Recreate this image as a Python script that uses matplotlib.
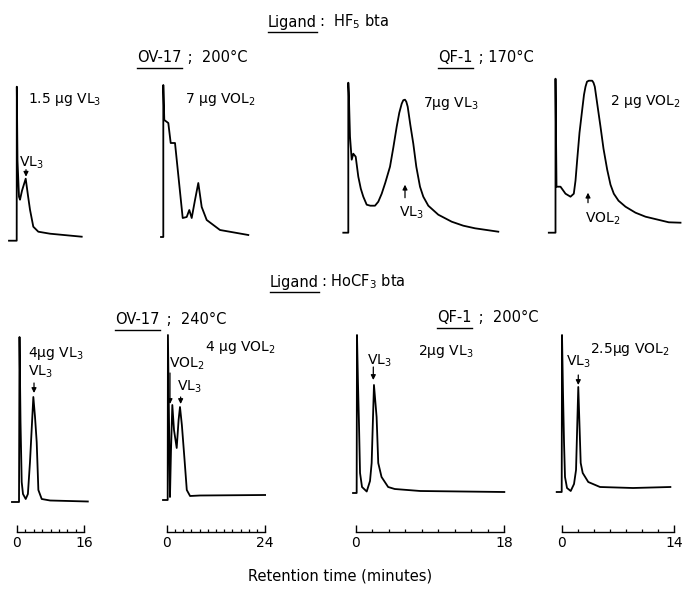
import numpy as np
import matplotlib
matplotlib.use("Agg")
import matplotlib.pyplot as plt
from matplotlib.lines import Line2D

# Chromatogram traces.
# Top row: no time scale given, x is chart distance (arbitrary units).
# Bottom row: x is retention time in minutes. y is detector response (arbitrary units).
p1_t = [-7.7, 0, 0.1, 0.8, 2.3, 3.3, 5.3, 9, 11.3, 13.3, 16.6, 21.6, 33.3, 65]
p1_h = [0, 0, 154, 80, 44, 41, 50, 62, 45, 31, 14, 9, 7, 4]

p2_t = [-2.3, 0, 0, 1, 5, 7.4, 11.7, 19.4, 23.4, 26, 28.4, 31.7, 35, 38.4, 43.4, 56.7, 85]
p2_h = [0, 0, 152, 117, 114, 94, 94, 19, 20, 27, 19, 37, 54, 30, 17, 7, 2]

p3_t = [-5, 0, 0, 0.5, 1.7, 3.4, 5, 7.4, 10, 12.5, 15, 18.4, 22, 26.7, 30, 33.4, 37,
        41.7, 45, 48.4, 51, 53.4, 55, 56.7, 58, 59.4, 62, 65, 68, 71.7, 75, 80,
        90, 103.4, 115, 126.7, 150]
p3_h = [0, 0, 150, 140, 96, 73, 79, 76, 56, 44, 36, 28, 27, 27, 31, 39, 50,
        66, 85, 106, 120, 129, 132.5, 133, 131, 126, 108, 89, 66, 46, 36, 27,
        18, 11, 7, 4.4, 1]

p4_t = [-6.7, 0, 0, 1, 5, 10, 15, 18.3, 20, 21.7, 24, 26.7, 28.5, 30, 31.5, 33.3,
        36.7, 38, 39.3, 42, 45, 48, 51.7, 55, 58.3, 63, 70, 80, 90, 113.3, 125]
p4_h = [0, 0, 154, 46, 46, 39, 36, 39, 52, 73, 100, 123, 138, 146, 151, 152,
        152, 150, 146, 127, 106, 84, 63, 48, 39, 32, 26, 20, 16, 10.4, 10]

p5_t = [-1.2, 0.48, 0.6, 0.84, 1.12, 1.43, 2.08, 2.6, 3.1, 3.9, 4.3, 4.7, 5.1, 5.9, 7.9, 16.9]
p5_h = [0, 0, 165, 80, 20, 8, 3, 8, 40, 105, 85, 60, 12, 3, 1.5, 0.5]

p6_t = [-0.9, 0.24, 0.3, 0.8, 1.05, 1.37, 1.78, 2.44, 2.9, 3.24, 3.7, 4.3, 4.9, 5.7, 8.1, 24]
p6_h = [0, 0, 165, 3, 50, 95, 70, 52, 80, 93, 75, 43, 10, 4, 4.5, 5]

p7_t = [-0.36, 0.08, 0.12, 0.24, 0.36, 0.49, 0.73, 1.3, 1.7, 1.9, 2.18, 2.5, 2.7, 3.1,
        3.9, 4.7, 7.8, 18]
p7_h = [0, 0, 158, 110, 70, 20, 6, 1.5, 12, 30, 108, 76, 30, 16, 6, 4, 2, 1]

p8_t = [-0.62, 0, 0.04, 0.16, 0.29, 0.41, 0.66, 1.12, 1.53, 1.78, 2.06, 2.36, 2.61, 3.3,
        4.76, 8.86, 13.5]
p8_h = [0, 0, 157, 100, 49, 15, 4, 1, 8, 22, 105, 29, 19, 10, 5, 4, 5]

# time scale bars of the bottom row (minutes)
scale_max = [16, 24, 18, 14]

W, H = 696, 593
fig = plt.figure(figsize=(W / 100, H / 100), dpi=100)
fig.patch.set_facecolor("white")
LW = 1.3
FS = 10


def panel(t, h, t0, ppu, base, left, top, right, bottom, tmax=None, scale_y=None):
    # axes placed in pixel units; x maps t0 + ppu*t, y is 1 unit per pixel above baseline
    ax = fig.add_axes([left / W, 1 - bottom / H, (right - left) / W, (bottom - top) / H])
    ax.set_xlim((left - t0) / ppu, (right - t0) / ppu)
    ax.set_ylim(base - bottom, base - top)
    ax.patch.set_alpha(0)
    ax.plot(t, h, color="black", lw=LW, solid_joinstyle="round", clip_on=False)
    for s in ["top", "left", "right", "bottom"]:
        ax.spines[s].set_visible(False)
    ax.set_yticks([])
    if tmax is None:
        ax.set_xticks([])
    else:
        sp = ax.spines["bottom"]
        sp.set_visible(True)
        sp.set_position(("data", base - scale_y))
        sp.set_bounds(0, tmax)
        sp.set_linewidth(1.0)
        ax.set_xticks([0, tmax])
        ax.set_xticklabels(["0", str(tmax)], fontsize=FS)
        ax.set_xticks(np.arange(2, tmax, 2), minor=True)
        ax.tick_params(axis="x", which="major", direction="in", length=5, width=1.0, pad=3)
        ax.tick_params(axis="x", which="minor", direction="in", length=2.5, width=0.9)
    return ax


def arrow(ax, x, tail, tip):
    ax.annotate("", xy=(x, tip), xytext=(x, tail),
                arrowprops=dict(arrowstyle="-|>", color="black", lw=0.9,
                                mutation_scale=7, shrinkA=0, shrinkB=0))


def label(s, x, y, size=FS):
    fig.text(x / W, 1 - y / H, s, ha="left", va="center", fontsize=size)


def header(x, y, under, rest, size=10.5):
    t1 = fig.text(x / W, 1 - y / H, under, ha="left", va="center", fontsize=size)
    fig.canvas.draw()
    bb = t1.get_window_extent(fig.canvas.get_renderer())
    fig.add_artist(Line2D([bb.x0 / W, bb.x1 / W], [(bb.y0 - 2) / H, (bb.y0 - 2) / H],
                          color="black", lw=1.0))
    fig.text((bb.x1 + 2) / W, 1 - y / H, rest, ha="left", va="center", fontsize=size)


# top row: Ligand HF5bta
a1 = panel(p1_t, p1_h, 16.7, 1, 240.7, 0, 75, 90, 245)
a2 = panel(p2_t, p2_h, 163.3, 1, 237, 150, 75, 260, 245)
a3 = panel(p3_t, p3_h, 348.3, 1, 232.7, 335, 70, 510, 240)
a4 = panel(p4_t, p4_h, 555.5, 1, 232.7, 540, 70, 690, 240)

# bottom row: Ligand HOCF3bta
a5 = panel(p5_t, p5_h, 17, 4.19, 502, 2, 330, 95, 540, scale_max[0], 532)
a6 = panel(p6_t, p6_h, 166.7, 4.1, 500, 155, 330, 275, 540, scale_max[1], 532)
a7 = panel(p7_t, p7_h, 356, 8.24, 493, 345, 330, 515, 540, scale_max[2], 532)
a8 = panel(p8_t, p8_h, 561.7, 8.05, 492, 550, 330, 685, 540, scale_max[3], 532)

arrow(a1, 9.3, 71, 64)
arrow(a3, 56.7, 35, 48)
arrow(a4, 32.5, 30, 40)
arrow(a5, 4.06, 119, 109)
arrow(a6, 0.8, 127, 96)
arrow(a6, 3.4, 103, 96)
arrow(a7, 2.1, 126, 113)
arrow(a8, 2.06, 117, 107)

header(268, 22, "Ligand", ":  HF$_5$ bta")
header(137, 58, "OV-17", " ;  200°C")
header(438, 58, "QF-1", " ; 170°C")
header(270, 282, "Ligand", ": HoCF$_3$ bta")
header(115, 320, "OV-17", " ;  240°C")
header(437, 318, "QF-1", " ;  200°C")

label("1.5 μg VL$_3$", 28, 100)
label("VL$_3$", 19, 163)
label("7 μg VOL$_2$", 185, 100)
label("7μg VL$_3$", 423, 104)
label("VL$_3$", 399, 213)
label("2 μg VOL$_2$", 610, 102)
label("VOL$_2$", 585, 219)

label("4μg VL$_3$", 28, 353)
label("VL$_3$", 28, 372)
label("4 μg VOL$_2$", 205, 348)
label("VOL$_2$", 169, 364)
label("VL$_3$", 177, 387)
label("2μg VL$_3$", 418, 352)
label("VL$_3$", 367, 361)
label("2.5μg VOL$_2$", 590, 350)
label("VL$_3$", 566, 362)

fig.text(340 / W, 1 - 576 / H, "Retention time (minutes)", ha="center", va="center",
         fontsize=10.5)

fig.savefig("out.png", dpi=100)
